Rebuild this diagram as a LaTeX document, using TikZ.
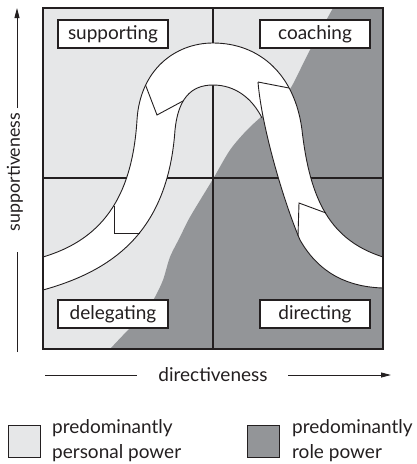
\documentclass[tikz,border=0pt]{standalone}
\usepackage{fontspec}
\setmainfont{Lato}
\usetikzlibrary{arrows.meta}
\definecolor{personalgray}{HTML}{E6E7E8}
\definecolor{rolegray}{HTML}{939598}
\definecolor{inkblack}{HTML}{231F20}

\begin{document}
\begin{tikzpicture}[x=1pt,y=-1pt,
    font=\fontsize{19}{25}\selectfont,
    every node/.style={text=inkblack},
    stylebox/.style={draw=inkblack, fill=white, line width=1.1pt,
      minimum width=110pt, minimum height=28pt, inner sep=0pt},
    bandline/.style={draw=inkblack, line width=0.9pt, line join=miter},
    axisline/.style={draw=inkblack, line width=0.9pt},
    keybox/.style={draw=inkblack, line width=0.9pt, minimum size=32pt, inner sep=0pt},
    keytext/.style={anchor=base west, inner sep=0pt}]
  \useasboundingbox (0,0) rectangle (417,464);

  % quadrants
  \fill[personalgray] (43,8) rectangle (383,349);
  \fill[rolegray] plot[smooth, tension=0.5] coordinates {(110,349) (128,330) (145,313)
      (155,297) (163,280) (170,257) (180,237) (190,217) (213,179) (230,150) (247,130)
      (262,116) (278,101) (290,89) (300,70) (310,50) (333,8)}
    -- (383,8) -- (383,349) -- cycle;
  \draw[inkblack, line width=1.6pt] (213,8) -- (213,349);
  \draw[inkblack, line width=1.6pt] (43,178) -- (383,178);

  % the curve
  \fill[white] (43,257) .. controls (100,240) and (132,200) .. (137,120)
    .. controls (140,70) and (175,43) .. (213,43)
    .. controls (260,43) and (295,75) .. (302,130)
    .. controls (310,200) and (330,240) .. (383,257)
    -- (383,288)
    .. controls (350,287) and (320,275) .. (300,240)
    .. controls (285,205) and (262,130) .. (258,82)
    -- (262,118)
    .. controls (252,98) and (235,85) .. (213,85)
    .. controls (190,85) and (178,100) .. (175,130)
    .. controls (168,230) and (115,270) .. (43,290) -- cycle;
  \draw[bandline] (43,257) .. controls (100,240) and (132,200) .. (137,120)
    .. controls (140,70) and (175,43) .. (213,43)
    .. controls (260,43) and (295,75) .. (302,130)
    .. controls (310,200) and (330,240) .. (383,257);
  \draw[bandline] (43,290) .. controls (115,270) and (168,230) .. (175,130)
    .. controls (178,100) and (190,85) .. (213,85)
    .. controls (235,85) and (252,98) .. (262,118);
  \draw[bandline] (258,82) .. controls (262,130) and (285,205) .. (300,240)
    .. controls (320,275) and (350,287) .. (383,288);
  \draw[bandline] (145.5,85) -- (157,115) -- (183,101);
  \draw[bandline] (114,205.5) -- (114,233) -- (140,233);
  \draw[bandline] (258,82) -- (289,88);
  \draw[bandline] (326,213) -- (299,203) -- (298,236);

  % styles
  \node[stylebox] (supporting) at (113,34) {supporting};
  \node[stylebox] (coaching) at (315,34) {coaching};
  \node[stylebox] (delegating) at (113,314) {delegating};
  \node[stylebox] (directing) at (315,314) {directing};
  \draw[inkblack, line width=1.4pt] (43,8) rectangle (383,349);

  % axes
  \node (dirtext) at (213,375) {directiveness};
  \coordinate (dirstart) at (45,375);
  \coordinate (dirstop) at (137,375);
  \coordinate (arrstart) at (288,375);
  \coordinate (dirend) at (391,375);
  \draw[axisline] (dirstart) -- (dirstop);
  \draw[axisline, -{Triangle[length=10pt,width=5pt]}] (arrstart) -- (dirend);
  \node[rotate=90, font=\fontsize{17.8}{22}\selectfont] (suptext) at (15,172) {supportiveness};
  \coordinate (supstart) at (17,352);
  \coordinate (supstop) at (17,252);
  \coordinate (uparrstart) at (17,108);
  \coordinate (supend) at (17,8);
  \draw[axisline] (supstart) -- (supstop);
  \draw[axisline, -{Triangle[length=10pt,width=5pt]}] (uparrstart) -- (supend);

  % key
  \node[keybox, fill=personalgray] (personalkey) at (24.5,441) {};
  \node[keytext] (personalone) at (52,433) {predominantly};
  \node[keytext] (personaltwo) at (52,458) {personal power};
  \node[keybox, fill=rolegray] (rolekey) at (263,441) {};
  \node[keytext] (roleone) at (292,433) {predominantly};
  \node[keytext] (roletwo) at (292,458) {role power};
\end{tikzpicture}
\end{document}
